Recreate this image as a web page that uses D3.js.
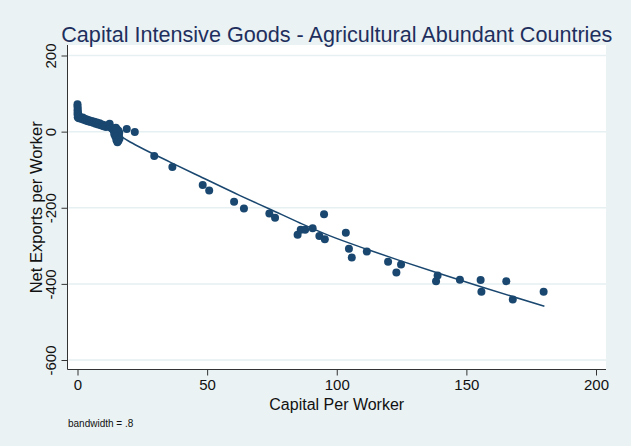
<!DOCTYPE html>
<html>
<head>
<meta charset="utf-8">
<script src="https://cdn.jsdelivr.net/npm/d3@7"></script>
<style>
  html, body { margin: 0; padding: 0; background: #eaf2f3; }
  svg { display: block; font-family: "Liberation Sans", Arial, sans-serif; }
</style>
</head>
<body>
<svg id="chart" width="631" height="446"></svg>
<script>
// Capital per worker (x) and net exports per worker (y) for each country-year
const capital = [
  0, 0, 0.1, 0, 0.2, 0, 0.3, 0.1, 0.5,
  0.8, 1.2, 1.6, 2.0, 2.4, 2.8, 3.2, 3.6, 4.0, 4.5, 5.0, 5.5, 6.0, 6.5, 7.0, 7.5, 8.0, 8.5, 9.0, 9.5, 10.0, 10.5, 11.0,
  11.8, 12.4, 12.8,
  13.3, 13.8, 14.2, 14.6, 15.0, 15.3, 15.6, 15.8, 15.2, 15.8, 16.1, 14.6, 15.0, 16.0, 14.2, 16.2, 14.8, 15.4,
  19.0, 22.1, 29.6, 36.6, 48.3, 50.8, 60.4, 64.2, 74.0, 76.2, 84.9, 86.1, 87.8, 90.7, 93.3, 95.4, 95.1,
  103.5, 104.7, 105.8, 111.6, 119.8, 123.0, 124.8, 138.3, 138.9, 147.5, 155.5, 155.8, 165.4, 167.9, 179.8
];
const netExports = [
  72, 66, 60, 55, 50, 46, 42, 38, 35,
  40, 36, 33, 37, 31, 34, 29, 32, 27, 30, 25, 28, 23, 26, 21, 24, 19, 22, 17, 19, 14, 17, 12,
  16, 21, 11,
  8, 4, 0, -5, -10, -15, -20, -24, 6, 2, -3, -13, -22, -12, -7, -18, 10, -28,
  7, -1, -64, -93, -140, -155, -184, -202, -215, -226, -271, -258, -258, -254, -274, -283, -217,
  -266, -308, -331, -315, -342, -370, -349, -393, -378, -389, -390, -421, -393, -441, -421
];

// Lowess smooth (bandwidth = .8)
const fitCapital = [0, 4.8, 9.8, 14.9, 19.5, 24.1, 35.7, 47.3, 62.7, 74.3, 85.8, 97.4, 111.6, 124.4, 138.7, 155.3, 180.1];
const fitNetExports = [39, 26, 12, -5, -24, -41, -80, -118, -168, -204, -240, -274, -309, -339, -371, -407, -459];

const xTicks = [0, 50, 100, 150, 200];
const yTicks = [200, 0, -200, -400, -600];

const titleText = "Capital Intensive Goods - Agricultural Abundant Countries";
const xTitle = "Capital Per Worker";
const yTitle = "Net Exports per Worker";
const noteText = "bandwidth = .8";

const navy = "#1a476f";
const plot = { left: 67.5, right: 606, top: 45, bottom: 369.5 };

const svg = d3.select("#chart");
svg.append("rect").attr("width", 631).attr("height", 446).attr("fill", "#eaf2f3");
svg.append("rect")
  .attr("x", plot.left).attr("y", plot.top)
  .attr("width", plot.right - plot.left).attr("height", plot.bottom - plot.top)
  .attr("fill", "#ffffff");

const x = d3.scaleLinear().domain([0, 200]).range([77.5, 596]);
const y = d3.scaleLinear().domain([200, -600]).range([55.5, 360]);

// horizontal grid lines
svg.append("g").selectAll("line").data(yTicks).join("line")
  .attr("x1", plot.left + 1).attr("x2", plot.right)
  .attr("y1", d => y(d)).attr("y2", d => y(d))
  .attr("stroke", "#e6eff1").attr("stroke-width", 1.5);

// axes (plain hyphen for negative labels)
const plain = d => String(d);
const xAxis = svg.append("g")
  .attr("transform", `translate(0,${plot.bottom})`)
  .call(d3.axisBottom(x).tickValues(xTicks).tickFormat(plain).tickSize(6).tickSizeOuter(0).tickPadding(4));
xAxis.select(".domain").remove();
xAxis.selectAll(".tick line").attr("stroke", "#333");
xAxis.selectAll(".tick text")
  .attr("fill", "#111").style("font-size", "15px")
  .style("font-family", "Liberation Sans, Arial, sans-serif");

const yAxis = svg.append("g")
  .attr("transform", `translate(${plot.left},0)`)
  .call(d3.axisLeft(y).tickValues(yTicks).tickFormat(plain).tickSize(6).tickSizeOuter(0));
yAxis.select(".domain").remove();
yAxis.selectAll(".tick line").attr("stroke", "#333");
yAxis.selectAll(".tick text")
  .attr("x", 0).attr("dy", null)
  .attr("transform", "translate(-12,0) rotate(-90)")
  .attr("text-anchor", "middle")
  .attr("fill", "#111").style("font-size", "15px")
  .style("font-family", "Liberation Sans, Arial, sans-serif");

svg.append("line")
  .attr("x1", plot.left).attr("x2", plot.right)
  .attr("y1", plot.bottom).attr("y2", plot.bottom)
  .attr("stroke", "#333").attr("stroke-width", 1);
svg.append("line")
  .attr("x1", plot.left).attr("x2", plot.left)
  .attr("y1", plot.top).attr("y2", plot.bottom)
  .attr("stroke", "#333").attr("stroke-width", 1);

// scatter points
const points = capital.map((c, i) => ({ c, n: netExports[i] }));
svg.append("g").selectAll("circle").data(points).join("circle")
  .attr("cx", d => x(d.c)).attr("cy", d => y(d.n))
  .attr("r", 4).attr("fill", navy);

// lowess fit
const fit = fitCapital.map((c, i) => ({ c, n: fitNetExports[i] }));
svg.append("path").datum(fit)
  .attr("d", d3.line().x(d => x(d.c)).y(d => y(d.n)).curve(d3.curveMonotoneX))
  .attr("fill", "none").attr("stroke", navy).attr("stroke-width", 1.5);

// titles
const cx = (plot.left + plot.right) / 2;
svg.append("text").attr("x", cx).attr("y", 41.5)
  .attr("text-anchor", "middle").attr("fill", "#1e2f5e")
  .style("font-size", "21.6px").text(titleText);
svg.append("text").attr("x", cx).attr("y", 410)
  .attr("text-anchor", "middle").attr("fill", "#111")
  .style("font-size", "16px").text(xTitle);
svg.append("text")
  .attr("transform", `translate(42,${(plot.top + plot.bottom) / 2}) rotate(-90)`)
  .attr("text-anchor", "middle").attr("fill", "#111")
  .style("font-size", "16.5px").text(yTitle);
svg.append("text").attr("x", 68).attr("y", 427)
  .attr("fill", "#111").style("font-size", "10px").text(noteText);
</script>
</body>
</html>
